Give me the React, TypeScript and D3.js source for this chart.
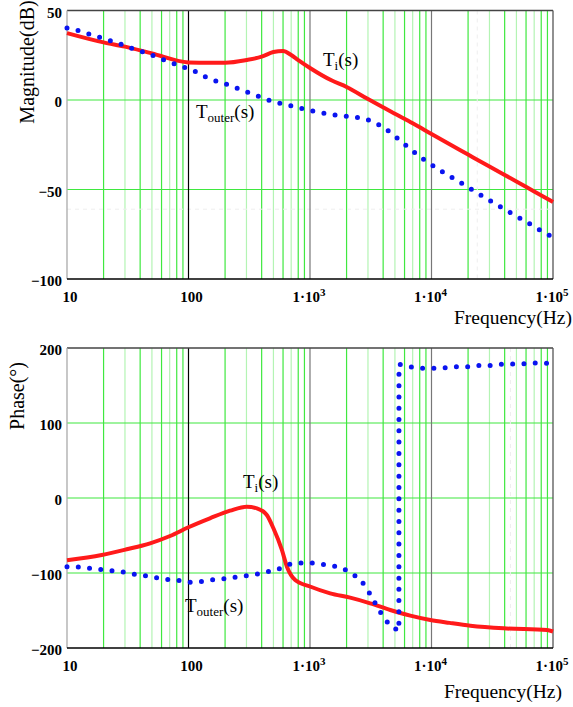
import React from "react";
import * as d3 from "d3";

const W = 573;
const H = 707;

// magnitude, Ti(s)
const F_MAG_TI = [10, 20, 30, 50, 100, 150, 200, 300, 400, 500, 600, 700, 800, 1000, 1500, 2000, 3000, 5000, 7000, 10000, 20000, 30000, 50000, 70000, 100000];
const MAG_TI = [37.4, 32.2, 29.8, 26.0, 21.0, 20.8, 20.8, 22.3, 24.2, 26.8, 27.4, 25.1, 22.3, 17.9, 11.0, 7.3, 0.5, -7.7, -13.0, -19.0, -30.5, -37.2, -45.5, -51.1, -57.0];

// magnitude, Touter(s)
const F_MAG_OUT = [10, 12.5, 15.5, 19, 24, 29.4, 36, 44.7, 55, 65, 80, 95, 115, 142, 217, 332, 507, 766, 1110, 1690, 2590, 3200, 3930, 5930, 8240, 11670, 17950, 27370, 42100, 61200, 92200, 100000];
const MAG_OUT = [40.2, 38.7, 36.7, 34.8, 32.6, 30.6, 28.3, 26.3, 24.0, 22.0, 19.7, 17.9, 15.8, 12.5, 8.2, 3.4, -1.0, -3.9, -6.5, -8.6, -10.1, -11.8, -14.9, -24.4, -32.2, -39.1, -46.8, -54.4, -62.0, -68.3, -75.4, -76.5];

// phase, Ti(s)
const F_PH_TI = [10, 19.3, 31, 48.3, 70.5, 100, 150, 220, 302, 365, 414, 441, 500, 587, 646, 755, 1000, 1465, 2140, 3130, 4580, 6690, 9770, 14090, 20900, 39300, 89300, 100000];
const PH_TI = [-83, -76, -68.4, -60.4, -50.7, -39, -27.1, -16.9, -11.6, -13.8, -18.2, -22.7, -40.4, -69.3, -91.6, -109.3, -118, -127.1, -132.9, -140.4, -149.3, -156.9, -162.7, -166.5, -170.2, -173.8, -176, -178];

// phase, Touter(s)
const F_PH_OUT = [10, 12.5, 15.5, 19, 23.7, 29.2, 35.9, 44.7, 55, 67, 82.8, 99.8, 124.8, 152.6, 190, 234, 287, 355, 442, 541, 662, 818, 1006, 1238, 1542, 1915, 2363, 2845, 3209, 3620, 4132, 5134, 5390, 5400, 6528, 8096, 9990, 12380, 15320, 18900, 23350, 28740, 35500, 44000, 54100, 66800, 82100, 100000];
const PH_OUT = [-91.6, -92, -93.7, -95.3, -97, -98.7, -101.7, -103.8, -106.5, -108.7, -110, -112.2, -111.5, -109.3, -108, -105.8, -104, -101.7, -98.5, -95.1, -88.8, -86.7, -86.7, -88.4, -90.3, -95.1, -104, -117.3, -131.6, -146.3, -161.3, -175.1, -177, 178, 175.1, 173.3, 172.9, 173.3, 175.1, 174.7, 176.9, 176.4, 178.3, 178.7, 178.7, 180, 179.6, 179.8];

const X_TICKS = [10, 100, 1000, 10000, 100000];
const X_TICK_EXP = ["", "", "3", "4", "5"];
const MAG_TICKS = [50, 0, -50, -100];
const PH_TICKS = [200, 100, 0, -100, -200];

const SERIF = "'Liberation Serif', 'Times New Roman', serif";
const BRIGHT = "#3fe83f";
const PALE = "#b4f4b4";
const RED = "#ff1a1a";
const BLUE = "#0a14f0";

const fmt = (v: number) => (v < 0 ? "\u2212" + Math.abs(v) : String(v));

type PanelProps = {
  top: number;
  bottom: number;
  yDomain: [number, number];
  yTicks: number[];
  yLabel: string;
  yLabelPos: [number, number];
  hGrid: number[];
  ti: { f: number[]; v: number[] };
  outer: { f: number[]; v: number[] };
  tiLabel: [number, number];
  outLabel: [number, number];
  freqLabel: [number, number];
  dashH?: number;
  dashV?: number;
};

const x = d3.scaleLog().domain([10, 100000]).range([67, 553]);

function Panel(p: PanelProps) {
  const y = d3.scaleLinear().domain(p.yDomain).range([p.bottom, p.top]);
  const line = d3
    .line<[number, number]>()
    .x((d) => x(d[0]))
    .y((d) => y(d[1]))
    .curve(d3.curveMonotoneX);
  const tiPts = p.ti.f.map((f, i) => [f, p.ti.v[i]] as [number, number]);
  const outPts = p.outer.f.map((f, i) => [f, p.outer.v[i]] as [number, number]);

  const minor: { f: number; pale: boolean }[] = [];
  [10, 100, 1000, 10000].forEach((dec) => {
    for (let m = 2; m <= 9; m++) minor.push({ f: dec * m, pale: m === 3 || m === 5 || m === 7 });
  });

  const [x0, x1] = x.range();
  const tickBase = p.bottom + 23;

  return (
    <g>
      {minor.map((d, i) => (
        <line key={"m" + i} x1={x(d.f)} x2={x(d.f)} y1={p.top} y2={p.bottom}
          stroke={d.pale ? PALE : BRIGHT} strokeWidth={1.2} />
      ))}
      {p.hGrid.map((v) => (
        <line key={"h" + v} x1={x0} x2={x1} y1={y(v)} y2={y(v)} stroke={BRIGHT} strokeWidth={1.2} />
      ))}
      {p.dashH !== undefined && (
        <line x1={x0} x2={x1} y1={y(p.dashH)} y2={y(p.dashH)} stroke="#eeeeee" strokeDasharray="4 4" />
      )}
      {p.dashV !== undefined && (
        <line x1={x(p.dashV)} x2={x(p.dashV)} y1={p.top} y2={p.bottom} stroke="#eeeeee" strokeDasharray="4 4" />
      )}
      {[100, 1000, 10000].map((f) => (
        <line key={"d" + f} x1={x(f)} x2={x(f)} y1={p.top} y2={p.bottom}
          stroke={f === 100 ? "#000" : "#777"} strokeWidth={1.2} />
      ))}
      {/* frame */}
      <line x1={x0} x2={x1} y1={p.top} y2={p.top} stroke="#444" strokeWidth={1.3} />
      <line x1={x1} x2={x1} y1={p.top} y2={p.bottom} stroke="#555" strokeWidth={1.3} />
      <line x1={x0} x2={x0} y1={p.top} y2={p.bottom} stroke="#aaa" strokeWidth={1.3} />
      <line x1={x0} x2={x1} y1={p.bottom} y2={p.bottom} stroke="#000" strokeWidth={1.4} />

      <path d={line(tiPts) || ""} fill="none" stroke={RED} strokeWidth={4} strokeLinejoin="round" />
      <path d={line(outPts) || ""} fill="none" stroke={BLUE} strokeWidth={5}
        strokeLinecap="round" strokeDasharray="0 11.3" />

      {p.yTicks.map((v) => (
        <text key={"yt" + v} x={62} y={y(v) + 7} textAnchor="end" fontFamily={SERIF}
          fontWeight="bold" fontSize={15}>{fmt(v)}</text>
      ))}
      {X_TICKS.map((f, i) => (
        <text key={"xt" + f} x={x(f) + (X_TICK_EXP[i] ? -1 : 3)} y={tickBase} textAnchor="middle"
          fontFamily={SERIF} fontWeight="bold" fontSize={15}>
          {X_TICK_EXP[i] ? "1\u00b710" : String(f)}
          {X_TICK_EXP[i] && <tspan dy={-6} fontSize={11}>{X_TICK_EXP[i]}</tspan>}
        </text>
      ))}
      <text x={p.freqLabel[0]} y={p.freqLabel[1]} textAnchor="end" fontFamily={SERIF} fontSize={19.5}>
        Frequency(Hz)
      </text>
      <text transform={`translate(${p.yLabelPos[0]},${p.yLabelPos[1]}) rotate(-90)`}
        textAnchor="middle" fontFamily={SERIF} fontSize={20}>{p.yLabel}</text>

      <text x={p.tiLabel[0]} y={p.tiLabel[1]} fontFamily={SERIF} fontSize={19}>
        T<tspan dy={4} fontSize={13}>i</tspan><tspan dy={-4}>(s)</tspan>
      </text>
      <text x={p.outLabel[0]} y={p.outLabel[1]} fontFamily={SERIF} fontSize={19}>
        T<tspan dy={4} fontSize={13}>outer</tspan><tspan dy={-4}>(s)</tspan>
      </text>
    </g>
  );
}

export default function App() {
  return (
    <svg width={W} height={H} style={{ position: "absolute", left: 0, top: 0, background: "#fff" }}>
      <Panel
        top={10.5}
        bottom={279}
        yDomain={[-100, 50]}
        yTicks={MAG_TICKS}
        yLabel="Magnitude(dB)"
        yLabelPos={[34, 62]}
        hGrid={[0, -50]}
        ti={{ f: F_MAG_TI, v: MAG_TI }}
        outer={{ f: F_MAG_OUT, v: MAG_OUT }}
        tiLabel={[323, 66]}
        outLabel={[196, 118]}
        freqLabel={[572, 324]}
        dashH={-61}
        dashV={23800}
      />
      <Panel
        top={348}
        bottom={648}
        yDomain={[-200, 200]}
        yTicks={PH_TICKS}
        yLabel="Phase(°)"
        yLabelPos={[24, 396]}
        hGrid={[100, 0, -100]}
        ti={{ f: F_PH_TI, v: PH_TI }}
        outer={{ f: F_PH_OUT, v: PH_OUT }}
        tiLabel={[243, 488]}
        outLabel={[185, 612]}
        freqLabel={[562, 698]}
        dashV={44600}
      />
    </svg>
  );
}
